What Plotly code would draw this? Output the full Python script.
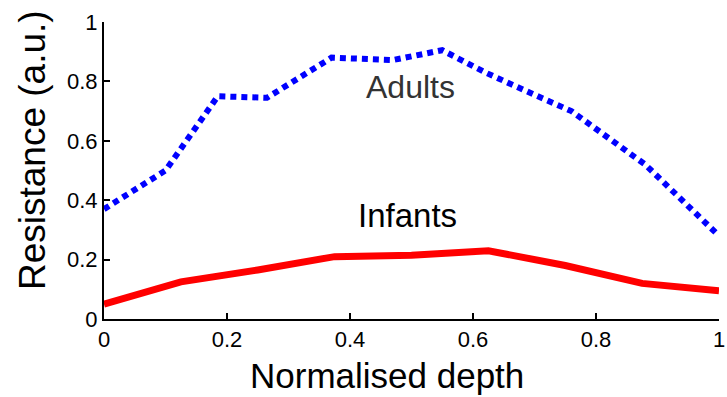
import plotly.graph_objects as go

# Data
adult_x = [0, 0.10, 0.185, 0.265, 0.37, 0.47, 0.55, 0.62, 0.70, 0.76, 0.88, 1.0]
adult_y = [0.37, 0.50, 0.75, 0.745, 0.88, 0.872, 0.905, 0.83, 0.755, 0.70, 0.52, 0.28]

infant_x = [0, 0.125, 0.25, 0.375, 0.5, 0.625, 0.75, 0.875, 1.0]
infant_y = [0.05, 0.125, 0.165, 0.21, 0.215, 0.23, 0.18, 0.12, 0.095]

x_ticks = [0, 0.2, 0.4, 0.6, 0.8, 1]
x_tick_labels = ["0", "0.2", "0.4", "0.6", "0.8", "1"]
y_ticks = [0, 0.2, 0.4, 0.6, 0.8, 1]
y_tick_labels = ["0", "0.2", "0.4", "0.6", "0.8", "1"]

x_title = "Normalised depth"
y_title = "Resistance (a.u.)"

FONT = "Arial, 'Liberation Sans', sans-serif"

fig = go.Figure()
fig.add_trace(go.Scatter(
    x=adult_x, y=adult_y, mode="lines", name="Adults",
    line=dict(color="#0000FF", width=6, dash="6px,5px"),
    showlegend=False, cliponaxis=False,
))
fig.add_trace(go.Scatter(
    x=infant_x, y=infant_y, mode="lines", name="Infants",
    line=dict(color="#FF0000", width=7),
    showlegend=False, cliponaxis=False,
))

fig.add_annotation(x=0.4976, y=0.781, xref="x", yref="y", text="Adults",
                   showarrow=False, xanchor="center", yanchor="middle",
                   font=dict(family=FONT, size=32, color="#333333"))
fig.add_annotation(x=0.494, y=0.347, xref="x", yref="y", text="Infants",
                   showarrow=False, xanchor="center", yanchor="middle",
                   font=dict(family=FONT, size=33, color="#000000"))

# axis titles (placed as in the reference)
fig.add_annotation(x=0.46, y=-0.19, xref="paper", yref="paper", text=x_title,
                   showarrow=False, xanchor="center", yanchor="middle",
                   font=dict(family=FONT, size=35, color="black"))
fig.add_annotation(x=0, y=0.569, xref="paper", yref="paper", text=y_title,
                   xshift=-72, textangle=-90,
                   showarrow=False, xanchor="center", yanchor="middle",
                   font=dict(family=FONT, size=37, color="black"))

fig.update_layout(
    width=727, height=397,
    margin=dict(l=104, r=8, t=22, b=78, autoexpand=False),
    paper_bgcolor="white", plot_bgcolor="white",
    font=dict(family=FONT, color="black"),
)
fig.update_xaxes(
    range=[0, 1], tickmode="array", tickvals=x_ticks, ticktext=x_tick_labels,
    ticks="inside", ticklen=6, tickwidth=1.5, tickcolor="black",
    showline=True, linecolor="black", linewidth=2, mirror=False,
    showgrid=False, zeroline=False,
    tickfont=dict(size=22, color="black", family=FONT),
    automargin=False,
)
fig.update_yaxes(
    range=[0, 1], tickmode="array", tickvals=y_ticks, ticktext=y_tick_labels,
    ticks="inside", ticklen=6, tickwidth=1.5, tickcolor="black",
    showline=True, linecolor="black", linewidth=2, mirror=False,
    showgrid=False, zeroline=False,
    tickfont=dict(size=22, color="black", family=FONT),
    automargin=False,
)

fig.write_html("out.html")
